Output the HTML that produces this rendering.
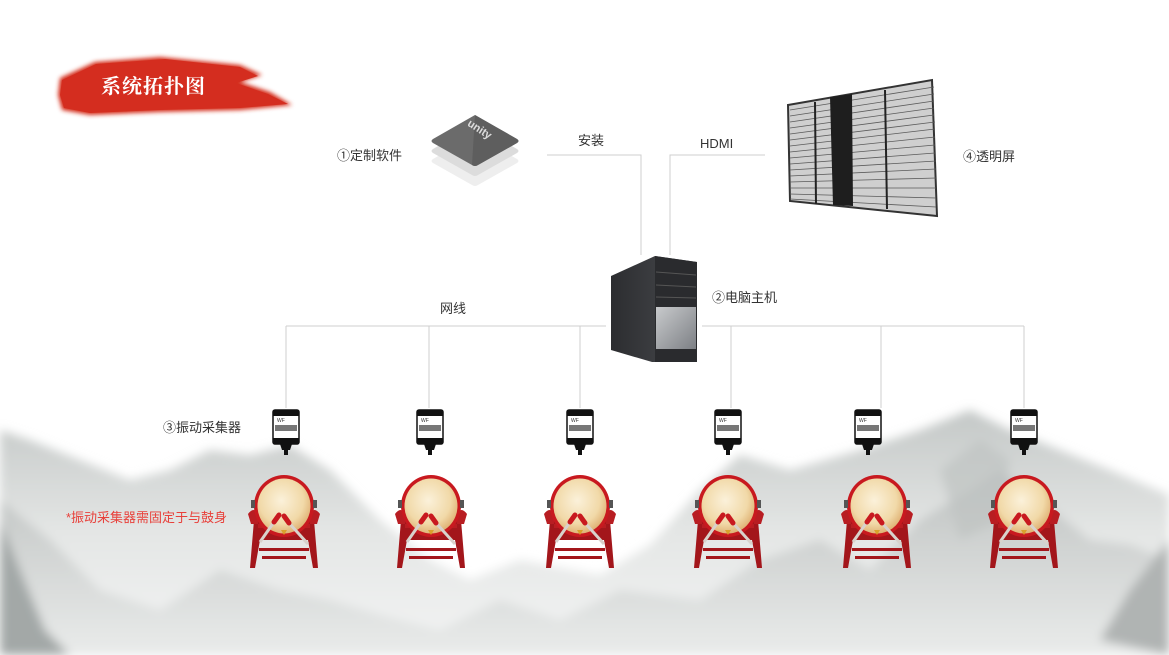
<!DOCTYPE html>
<html><head><meta charset="utf-8"><style>
html,body{margin:0;padding:0;background:#fff;}
body{width:1169px;height:655px;overflow:hidden;position:relative;font-family:"Liberation Sans","Noto Sans CJK SC",sans-serif;}
svg{position:absolute;left:0;top:0;}
.t{font-family:"Liberation Sans","Noto Sans CJK SC",sans-serif;font-size:13px;fill:#333;}
</style></head><body>
<svg width="1169" height="655" viewBox="0 0 1169 655" xmlns="http://www.w3.org/2000/svg">
<defs>
<filter id="bl" x="-20%" y="-20%" width="140%" height="140%"><feGaussianBlur stdDeviation="5"/></filter>
<filter id="bl2" x="-20%" y="-20%" width="140%" height="140%"><feGaussianBlur stdDeviation="2"/></filter>
<linearGradient id="mt" x1="0" y1="0" x2="0" y2="1"><stop offset="0" stop-color="#c4c8c7"/><stop offset="0.5" stop-color="#e4e6e5"/><stop offset="1" stop-color="#f3f4f4"/></linearGradient>
<linearGradient id="mt2" x1="0" y1="0" x2="0" y2="1"><stop offset="0" stop-color="#b5b9b8"/><stop offset="1" stop-color="#e6e8e7"/></linearGradient>
<radialGradient id="head" cx="0.45" cy="0.4" r="0.6"><stop offset="0" stop-color="#fbf1da"/><stop offset="0.7" stop-color="#f1d9a8"/><stop offset="1" stop-color="#e0b477"/></radialGradient>
<linearGradient id="pc" x1="0" y1="0" x2="1" y2="0"><stop offset="0" stop-color="#2c2d30"/><stop offset="1" stop-color="#4a4c50"/></linearGradient>
<linearGradient id="pcs" x1="0" y1="0" x2="1" y2="1"><stop offset="0" stop-color="#c8cacc"/><stop offset="1" stop-color="#7d8085"/></linearGradient>
<g id="drum">
  <path d="M-30,42 L-34,90 L-29,90 L-24,62 L24,62 L29,90 L34,90 L30,42 Z" fill="#a3161b"/>
  <rect x="-25" y="70" width="50" height="3" fill="#a3161b"/>
  <rect x="-22" y="78" width="44" height="3" fill="#a3161b"/>
  <path d="M-36,36 Q-30,28 -26,36 L-26,50 L26,50 L26,36 Q30,28 36,36 L33,46 L-33,46 Z" fill="#b81d22"/>
  <ellipse cx="0" cy="28" rx="30" ry="31" fill="#c8191f"/>
  <ellipse cx="0" cy="28" rx="26.5" ry="27.5" fill="url(#head)"/>
  <rect x="-33" y="22" width="4" height="8" fill="#555"/>
  <rect x="29" y="22" width="4" height="8" fill="#555"/>
  <path d="M-3,52 L3,52 L0,57 Z" fill="#d9a22c"/>
  <line x1="-24" y1="64" x2="-10" y2="44" stroke="#d8d2cc" stroke-width="3"/>
  <line x1="24" y1="66" x2="5" y2="45" stroke="#d8d2cc" stroke-width="3"/>
  <line x1="-10" y1="44" x2="-5" y2="37" stroke="#c8191f" stroke-width="5" stroke-linecap="round"/>
  <line x1="5" y1="45" x2="0" y2="38" stroke="#c8191f" stroke-width="5" stroke-linecap="round"/>
</g>
<g id="sensor">
  <rect x="-13" y="0" width="26" height="34" rx="2" fill="#fff" stroke="#111" stroke-width="1.5"/>
  <rect x="-13" y="0" width="26" height="6" fill="#111"/>
  <rect x="-13" y="28" width="26" height="6" fill="#111"/>
  <rect x="-11" y="15" width="22" height="6" fill="#777"/>
  <text x="-9" y="12" font-size="5" fill="#333" font-family="Liberation Sans">WF</text>
  <path d="M-6,34 L6,34 L4,40 L2,40 L2,45 L-2,45 L-2,40 L-4,40 Z" fill="#111"/>
</g>
</defs>

<!-- mountains -->
<g filter="url(#bl)">
<path d="M0,430 L30,440 L80,460 L130,480 L170,470 L210,450 L250,455 L290,445 L330,470 L380,520 L430,560 L470,580 L520,560 L600,575 L650,545 L700,490 L740,455 L790,470 L860,450 L920,430 L970,410 L1010,430 L1060,450 L1110,470 L1169,495 L1169,655 L0,655 Z" fill="url(#mt)"/>
<path d="M0,500 L50,540 L100,590 L160,610 L220,570 L280,590 L330,600 L380,615 L440,630 L500,600 L560,620 L620,590 L700,600 L760,560 L820,540 L870,570 L920,520 L970,490 L1000,470 L1040,500 L1090,540 L1130,545 L1169,560 L1169,655 L0,655 Z" fill="url(#mt2)" opacity="0.75"/>
<path d="M0,520 L20,570 L45,630 L70,655 L0,655 Z" fill="#a3a8a7"/>
<path d="M1169,540 L1130,590 L1100,640 L1169,655 Z" fill="#b0b4b3"/>
<path d="M940,470 L980,440 L1010,460 L1000,520 L960,540 Z" fill="#bfc3c2" opacity="0.7"/>
</g>

<!-- title brush -->
<g filter="url(#bl2)">
<path d="M60,78 L95,62 L160,57 L240,65 L262,75 L240,82 L270,92 L292,105 L240,110 L160,112 L90,115 L62,110 L58,95 Z" fill="#d42d1f"/>
</g>
<path d="M62,80 L96,64 L165,59 L240,67 L258,76 L236,83 L268,94 L288,104 L240,108 L160,110 L90,113 L64,108 L60,95 Z" fill="#d42d1f"/>
<text x="101" y="93" font-size="20" font-weight="bold" fill="#fff" font-family="Noto Serif CJK SC, Noto Sans CJK SC, serif" letter-spacing="1">系统拓扑图</text>

<!-- unity -->
<path d="M475,135 L517,159 Q520,161 517,163 L478,185 Q475,187 472,185 L433,163 Q430,161 433,159 Z" fill="#eeeeee"/>
<path d="M475,125 L517,149 Q520,151 517,153 L478,175 Q475,177 472,175 L433,153 Q430,151 433,149 Z" fill="#dcdcdc"/>
<path d="M475,115 L517,139 Q520,141 517,143 L478,165 Q475,167 472,165 L433,143 Q430,141 433,139 Z" fill="#6b6b6b"/>
<path d="M475,115 L517,139 Q520,141 517,143 L478,165 Q475,167 472,165 Z" fill="#5e5e5e"/>
<text x="460" y="132" font-size="11" font-weight="bold" fill="#ddd" transform="rotate(33 475 140)" font-family="Liberation Sans">unity</text>
<text class="t" x="337" y="160">①定制软件</text>

<!-- connectors -->
<g stroke="#cfcfcf" stroke-width="1" fill="none">
<polyline points="547,155 641,155 641,255"/>
<polyline points="670,255 670,155 765,155"/>
<line x1="286" y1="326" x2="606" y2="326"/>
<line x1="702" y1="326" x2="1024" y2="326"/>
<line x1="286" y1="326" x2="286" y2="408"/>
<line x1="429" y1="326" x2="429" y2="408"/>
<line x1="580" y1="326" x2="580" y2="408"/>
<line x1="731" y1="326" x2="731" y2="408"/>
<line x1="881" y1="326" x2="881" y2="408"/>
<line x1="1024" y1="326" x2="1024" y2="408"/>
</g>
<text class="t" x="578" y="145">安装</text>
<text class="t" x="700" y="148">HDMI</text>
<text class="t" x="440" y="313">网线</text>

<!-- screen -->
<path d="M788,105 L932,80 L937,216 L790,201 Z" fill="#cfcfcf" stroke="#333" stroke-width="2"/>
<g stroke="#5a5a5a" stroke-width="0.8">
<line x1="790" y1="110" x2="934" y2="87"/><line x1="790" y1="116" x2="934" y2="94"/><line x1="790" y1="122" x2="934" y2="101"/><line x1="790" y1="128" x2="934" y2="108"/><line x1="790" y1="134" x2="934" y2="115"/><line x1="790" y1="140" x2="935" y2="122"/><line x1="790" y1="146" x2="935" y2="129"/><line x1="790" y1="152" x2="935" y2="137"/><line x1="790" y1="158" x2="935" y2="145"/><line x1="790" y1="164" x2="935" y2="153"/><line x1="790" y1="170" x2="936" y2="161"/><line x1="790" y1="176" x2="936" y2="169"/><line x1="790" y1="182" x2="936" y2="178"/><line x1="790" y1="188" x2="936" y2="188"/><line x1="790" y1="194" x2="936" y2="198"/><line x1="790" y1="199" x2="936" y2="207"/>
</g>
<g stroke="#222" stroke-width="2"><line x1="815" y1="102" x2="816" y2="204"/><line x1="885" y1="90" x2="887" y2="209"/></g>
<path d="M830,97 L852,94 L853,206 L833,205 Z" fill="#1e1e1e"/>
<text class="t" x="963" y="161">④透明屏</text>

<!-- computer -->
<path d="M611,276 L655,256 L697,262 L697,362 L652,362 L611,350 Z" fill="url(#pc)"/>
<path d="M655,256 L697,262 L697,362 L655,362 Z" fill="#2a2b2e"/>
<rect x="656" y="307" width="40" height="42" fill="url(#pcs)"/>
<line x1="656" y1="272" x2="696" y2="275" stroke="#555"/>
<line x1="656" y1="285" x2="696" y2="287" stroke="#555"/>
<line x1="656" y1="297" x2="696" y2="298" stroke="#555"/>
<text class="t" x="712" y="302">②电脑主机</text>

<!-- sensors and drums -->
<use href="#sensor" x="286" y="410"/>
<use href="#sensor" x="430" y="410"/>
<use href="#sensor" x="580" y="410"/>
<use href="#sensor" x="728" y="410"/>
<use href="#sensor" x="868" y="410"/>
<use href="#sensor" x="1024" y="410"/>
<use href="#drum" x="284" y="478"/>
<use href="#drum" x="431" y="478"/>
<use href="#drum" x="580" y="478"/>
<use href="#drum" x="728" y="478"/>
<use href="#drum" x="877" y="478"/>
<use href="#drum" x="1024" y="478"/>
<text class="t" x="163" y="432">③振动采集器</text>
<text x="66" y="522" font-size="13" fill="#e8403a" font-family="Liberation Sans, Noto Sans CJK SC, sans-serif">*振动采集器需固定于与鼓身</text>
</svg>
</body></html>
